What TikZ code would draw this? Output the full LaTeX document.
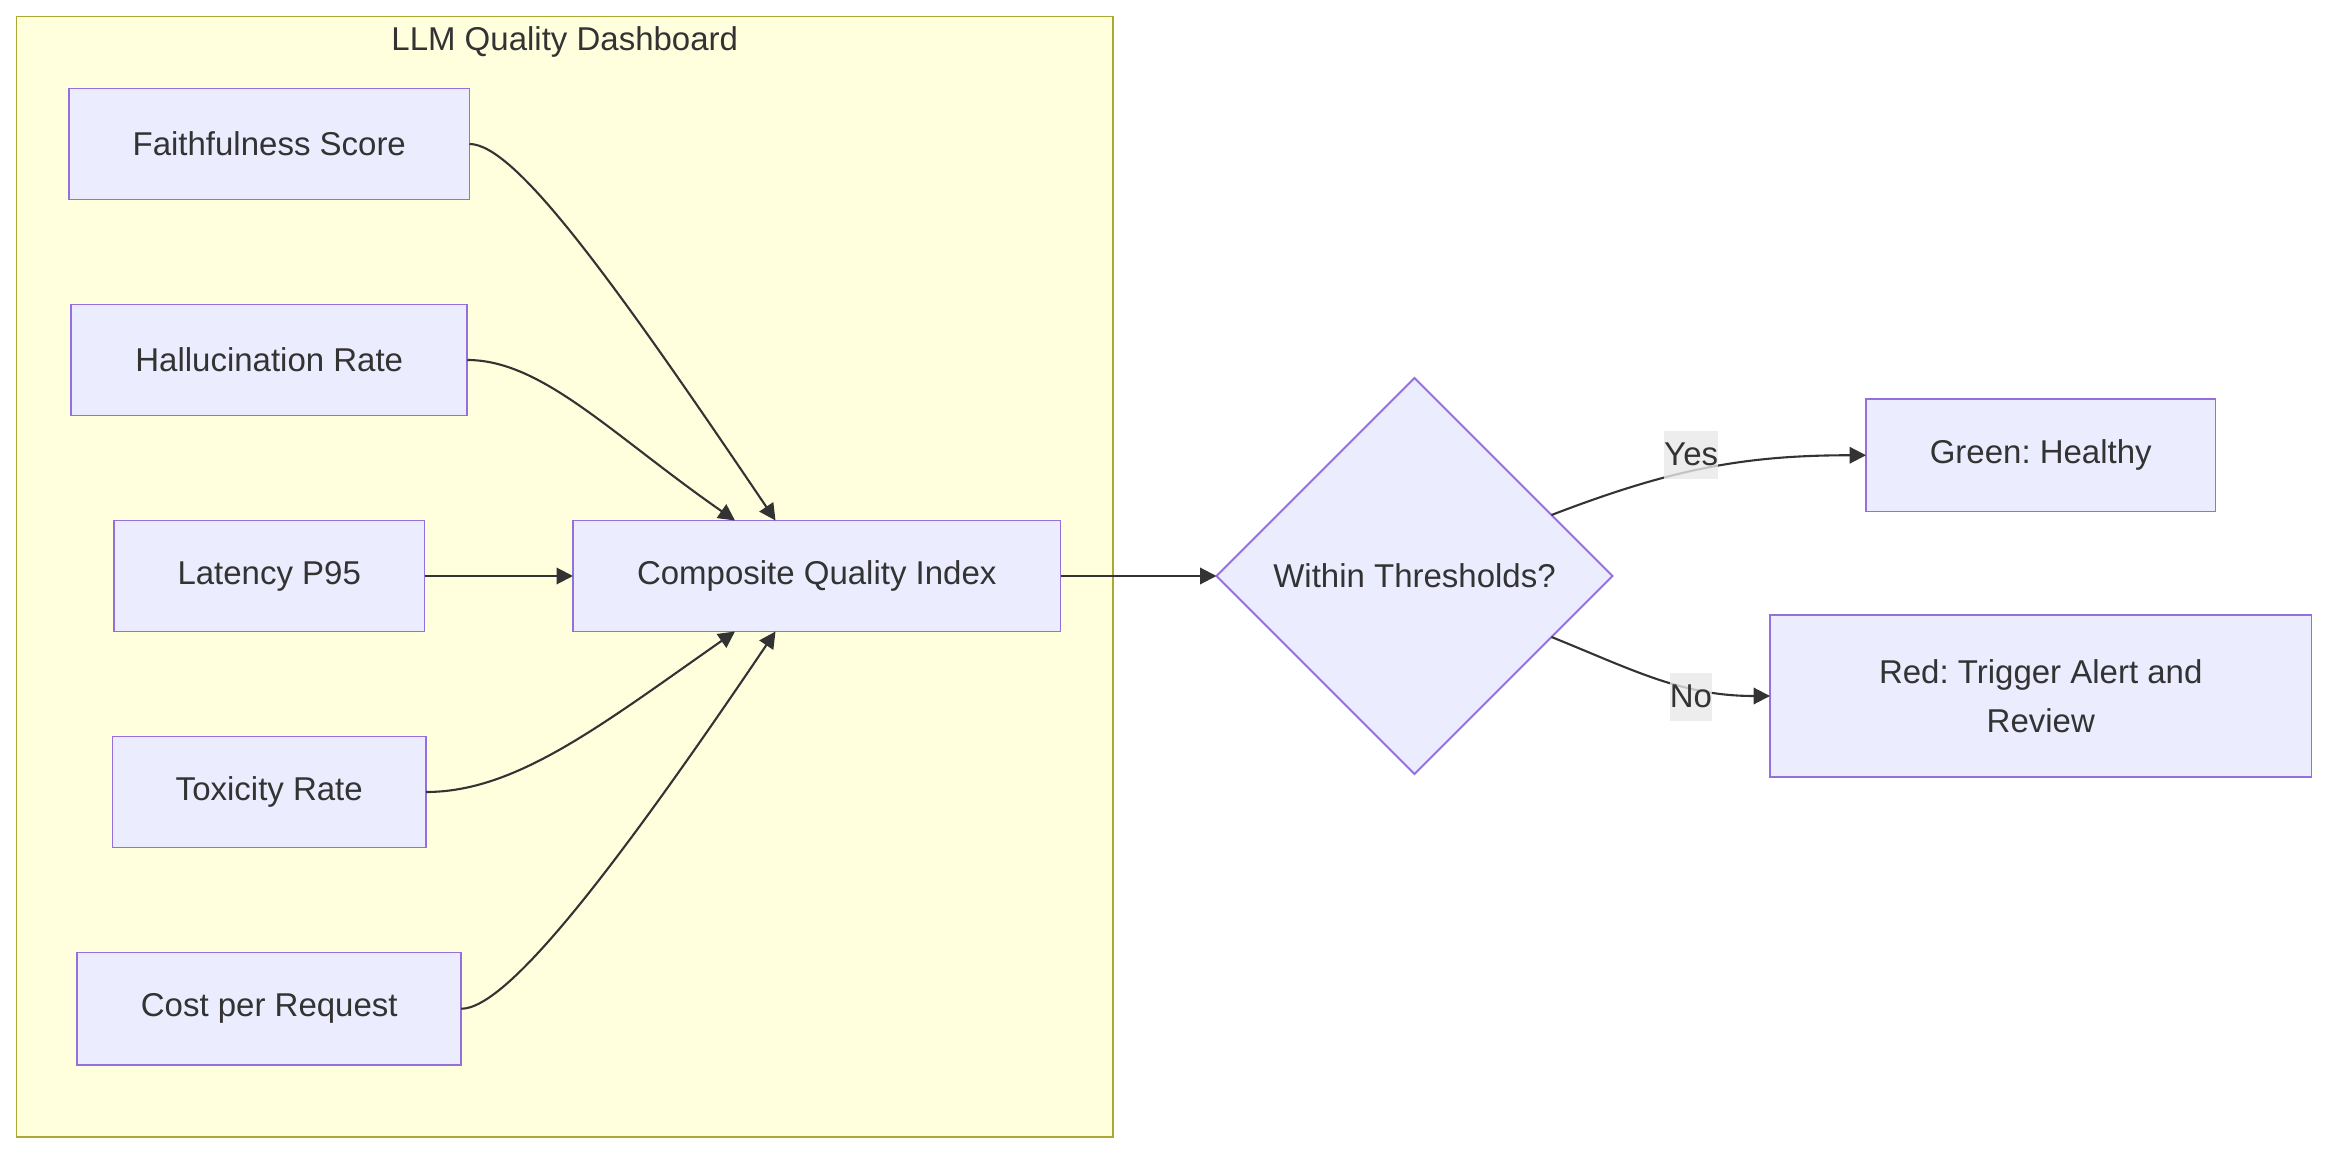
\documentclass[tikz,border=0pt]{standalone}
\usepackage{fontspec}
\setmainfont{Liberation Sans}
\usepackage{tikz}
\usetikzlibrary{positioning,arrows.meta,shapes.geometric,fit,backgrounds}
\usepackage{xcolor}
\definecolor{nodefill}{HTML}{ECECFF}
\definecolor{nodeline}{HTML}{9370DB}
\definecolor{clufill}{HTML}{FFFFDE}
\definecolor{cluline}{HTML}{AAAA33}
\definecolor{lblfill}{HTML}{E8E8E8}
\definecolor{ink}{HTML}{333333}
\frenchspacing

\begin{document}
\begin{tikzpicture}[
  node distance=35pt,
  font=\fontsize{11}{16.5}\selectfont,
  text=ink,
  box/.style={draw=nodeline, line width=0.6pt, fill=nodefill, outer sep=0pt, minimum height=37pt, align=center},
  decision/.style={diamond, aspect=1, draw=nodeline, line width=0.6pt, fill=nodefill, outer sep=0pt, minimum width=132pt, minimum height=132pt, inner sep=0pt},
  cluster/.style={draw=cluline, line width=0.6pt, fill=clufill, outer sep=0pt},
  arrow/.style={-{Triangle[length=5.5pt,width=5.5pt]}, line width=0.7pt, draw=ink},
  edgelbl/.style={fill=lblfill, fill opacity=0.8, text opacity=1, inner xsep=0pt, minimum height=16pt}
]
\node[box, minimum width=133.5pt] (faith) {Faithfulness Score};
\node[box, minimum width=132pt, below=of faith] (halluc) {Hallucination Rate};
\node[box, minimum width=103.5pt, below=of halluc] (latency) {Latency P95};
\node[box, minimum width=104.5pt, below=of latency] (toxic) {Toxicity Rate};
\node[box, minimum width=128pt, minimum height=37.5pt, below=of toxic] (cost) {Cost per Request};
\node[box, minimum width=162.5pt, right=49.5pt of latency] (cqi) {Composite Quality Index};
\node[decision, right=52pt of cqi] (thresh) {Within Thresholds?};
\node[box, minimum width=116.5pt, minimum height=37.5pt, right=84.5pt of thresh.east, yshift=40.25pt] (healthy) {Green: Healthy};
\node[box, minimum width=180.5pt, minimum height=54pt, right=52.5pt of thresh.east, yshift=-40pt] (alert) {Red: Trigger Alert and\\Review};
\begin{scope}[on background layer]
\node[cluster, fit=(faith)(cost)(cqi), inner xsep=17.5pt, inner ysep=24pt] (dash) {};
\end{scope}
\node (dashtitle) at ([yshift=-8.5pt]dash.north) {LLM Quality Dashboard};
\draw[arrow] (faith.east) .. controls +(15pt,0) and +(-55pt,81.5pt) .. ([xshift=-13.75pt]cqi.north);
\draw[arrow] (halluc.east) .. controls +(25pt,0) and +(-41pt,28.5pt) .. ([xshift=-27.25pt]cqi.north);
\draw[arrow] (latency) -- (cqi);
\draw[arrow] (toxic.east) .. controls +(30pt,0) and +(-45pt,-31.5pt) .. ([xshift=-27.25pt]cqi.south);
\draw[arrow] (cost.east) .. controls +(15pt,0) and +(-55pt,-81.5pt) .. ([xshift=-13.75pt]cqi.south);
\draw[arrow] (cqi) -- (thresh);
\draw[arrow] (thresh.24) to[out=21, in=180] node[edgelbl, pos=0.45, yshift=5.5pt] (yes) {Yes} (healthy.west);
\draw[arrow] (thresh.-24) to[out=-22, in=180] node[edgelbl, pos=0.66, yshift=-3pt] (no) {No} (alert.west);
\useasboundingbox ([shift={(-5.5pt,5.5pt)}]dash.north west) rectangle ++(784pt,-390pt);
\end{tikzpicture}
\end{document}
